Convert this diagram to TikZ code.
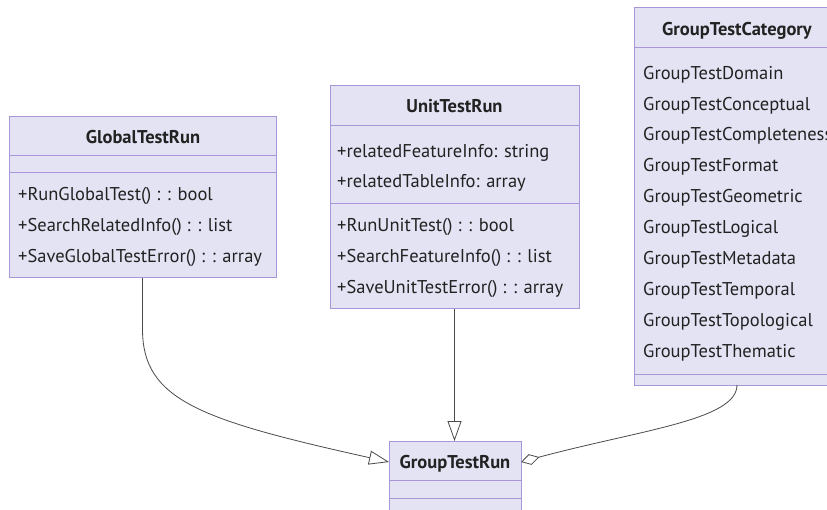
\documentclass[tikz,border=0pt]{standalone}
\usepackage{fontspec}
\setmainfont{PT Sans}
\usetikzlibrary{arrows.meta}
\definecolor{classfill}{HTML}{E3E3F4}
\definecolor{classline}{HTML}{A896D8}
\definecolor{edgecol}{HTML}{4A4A4A}
\definecolor{inkcol}{HTML}{222222}

\begin{document}
\begin{tikzpicture}[x=1pt,y=-1pt,
  classbox/.style={draw=classline, fill=classfill, line width=1pt, anchor=north west,
    inner sep=0pt, outer sep=0pt},
  classtitle/.style={font=\bfseries\fontsize{18.5}{20}\selectfont, text=inkcol, anchor=base, inner sep=0pt},
  member/.style={font=\fontsize{18.5}{20}\selectfont, text=inkcol, anchor=base west, inner sep=0pt},
  sepline/.style={draw=classline, line width=1pt},
  link/.style={draw=edgecol, line width=0.8pt},
  inherit/.style={link, -{Triangle[length=20pt, width=14pt, fill=white, line width=0.8pt]}},
  aggregate/.style={link, -{Diamond[length=19pt, width=11pt, fill=white, line width=0.8pt]}}]

\clip (0,0) rectangle (827,510);
\fill[white] (0,0) rectangle (827,510);

% ---- GlobalTestRun
\node[classbox, minimum width=267pt, minimum height=161pt] (global) at (9,117) {};
\node[classtitle] (globalT) at (143,144) {GlobalTestRun};
\draw[sepline] (9,156) -- (276,156);
\draw[sepline] (9,173) -- (276,173);
\node[member] at (18,201) {+RunGlobalTest() : : bool};
\node[member] at (18,232) {+SearchRelatedInfo() : : list};
\node[member] at (18,263) {+SaveGlobalTestError() : : array};

% ---- UnitTestRun
\node[classbox, minimum width=249pt, minimum height=223pt] (unit) at (330,86) {};
\node[classtitle] (unitT) at (454.5,113) {UnitTestRun};
\draw[sepline] (330,126) -- (579,126);
\node[member] at (337,158) {+relatedFeatureInfo: string};
\node[member] at (337,188) {+relatedTableInfo: array};
\draw[sepline] (330,204) -- (579,204);
\node[member] at (337,232) {+RunUnitTest() : : bool};
\node[member] at (337,263) {+SearchFeatureInfo() : : list};
\node[member] at (337,294) {+SaveUnitTestError() : : array};

% ---- GroupTestCategory
\node[classbox, minimum width=206pt, minimum height=377pt] (cat) at (634,8) {};
\node[classtitle] (catT) at (737,36) {GroupTestCategory};
\draw[sepline] (634,48) -- (840,48);
\foreach \y/\t in {80/GroupTestDomain, 111/GroupTestConceptual, 141/GroupTestCompleteness,
                   172/GroupTestFormat, 203/GroupTestGeometric, 234/GroupTestLogical,
                   265/GroupTestMetadata, 296/GroupTestTemporal, 327/GroupTestTopological,
                   358/GroupTestThematic}
  \node[member] at (643,\y) {\t};
\draw[sepline] (634,375) -- (840,375);

% ---- GroupTestRun
\node[classbox, minimum width=132pt, minimum height=75pt] (grouprun) at (389,441) {};
\node[classtitle] (grouprunT) at (455,468) {GroupTestRun};
\coordinate (grouprunTC) at (455,462);
\draw[sepline] (389,480) -- (521,480);
\draw[sepline] (389,498) -- (521,498);

% ---- relations
\draw[inherit] (unit.south) -- (unit.south |- grouprun.north);
\draw[inherit] (global.south) -- ++(0,52)
  .. controls (143,400) and (200,420) .. (grouprun.west |- grouprunTC);
\draw[aggregate] (cat.south)
  .. controls (737,420) and (640,430) .. (grouprun.east |- grouprunTC);

\end{tikzpicture}
\end{document}
